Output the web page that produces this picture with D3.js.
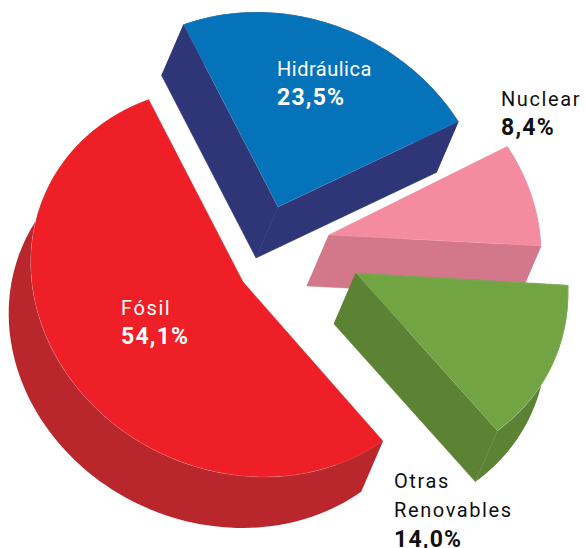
<!DOCTYPE html>
<html>
<head>
<meta charset="utf-8">
<script src="https://cdn.jsdelivr.net/npm/d3@7"></script>
<style>
  body { margin: 0; background: #fff; }
  text { font-family: Roboto, sans-serif; font-size: 20px; }
  .pct { font-weight: 700; font-size: 23px; letter-spacing: 1.2px; }
</style>
</head>
<body>
<svg id="chart" width="585" height="548" style="display:block"></svg>
<script>
// data
var categories = ["Hidráulica", "Nuclear", "Otras Renovables", "Fósil"];
var shares = [23.5, 8.4, 14.0, 54.1];
var shareLabels = ["23,5%", "8,4%", "14,0%", "54,1%"];
var topColors = ["#0573ba", "#f48b9f", "#73a443", "#ee1f26"];
var wallColors = ["#2e3678", "#d2788a", "#5c8334", "#b9272d"];

// layout: exploded slices, tilted disc, extrusion
var cx = 290, cy = 245;
var radius = 100;
var explode = [[-12, -38], [39, -10], [66, 28], [-47, 37]];
var turn = [0, -1, -0.6, 0];       // degrees, per slice
var depth = [-22, 51];
var tilt = [212.3 / radius, 19.6 / radius, 0, 194 / radius];
var labelAnchors = [[277, 76], [501, 106], [394, 488], [121, 315]];
var labelColors = ["#fff", "#111", "#111", "#fff"];
var labelSpacing = [0.5, 1.6, 1.6, 1.6];
var lineGap = 29.3;

var svg = d3.select("#chart");

var startAngle = -26.4 * Math.PI / 180;
var pie = d3.pie().sort(null).value(d => d)
    .startAngle(startAngle).endAngle(startAngle + 2 * Math.PI);
var slices = pie(shares);

var arc = d3.arc().innerRadius(0).outerRadius(radius);
var line = d3.line();

// point on the tilted rim, relative to the slice apex
function rim(a) {
    var u = Math.sin(a) * radius, v = -Math.cos(a) * radius;
    return [tilt[0] * u + tilt[2] * v, tilt[1] * u + tilt[3] * v];
}

slices.forEach(function(d, i) {
    var ox = cx + explode[i][0], oy = cy + explode[i][1];
    var dt = turn[i] * Math.PI / 180;
    var a0 = d.startAngle + dt, a1 = d.endAngle + dt;

    var g = svg.append("g").attr("transform", "translate(" + ox + "," + oy + ")");

    // outer wall
    var top = d3.range(0, 1.0001, 0.01).map(t => rim(a0 + (a1 - a0) * t));
    var bottom = top.map(p => [p[0] + depth[0], p[1] + depth[1]]).reverse();
    g.append("path")
        .attr("d", line(top.concat(bottom)) + "Z")
        .attr("fill", wallColors[i]);

    // two cut walls
    [a0, a1].forEach(function(a) {
        var p = rim(a);
        g.append("path")
            .attr("d", line([[0, 0], p, [p[0] + depth[0], p[1] + depth[1]], depth]) + "Z")
            .attr("fill", wallColors[i])
            .attr("stroke", wallColors[i])
            .attr("stroke-width", 0.5);
    });

    // top face
    g.append("path")
        .attr("d", arc({startAngle: a0, endAngle: a1}))
        .attr("transform", "matrix(" + tilt.join(",") + ",0,0)")
        .attr("fill", topColors[i])
        .attr("stroke", "#fff")
        .attr("stroke-opacity", 0.25)
        .attr("stroke-width", 0.5)
        .attr("vector-effect", "non-scaling-stroke");
});

// labels go on last
categories.forEach(function(name, i) {
    var words = name == "Otras Renovables" ? name.split(" ") : [name];
    var t = svg.append("text")
        .attr("x", labelAnchors[i][0])
        .attr("y", labelAnchors[i][1])
        .attr("fill", labelColors[i]);
    words.forEach(function(w, k) {
        t.append("tspan")
            .attr("x", labelAnchors[i][0])
            .attr("dy", k ? lineGap : 0)
            .style("letter-spacing", labelSpacing[i] + "px")
            .text(w);
    });
    t.append("tspan")
        .attr("class", "pct")
        .attr("x", labelAnchors[i][0])
        .attr("dy", lineGap)
        .text(shareLabels[i]);
});
</script>
</body>
</html>
